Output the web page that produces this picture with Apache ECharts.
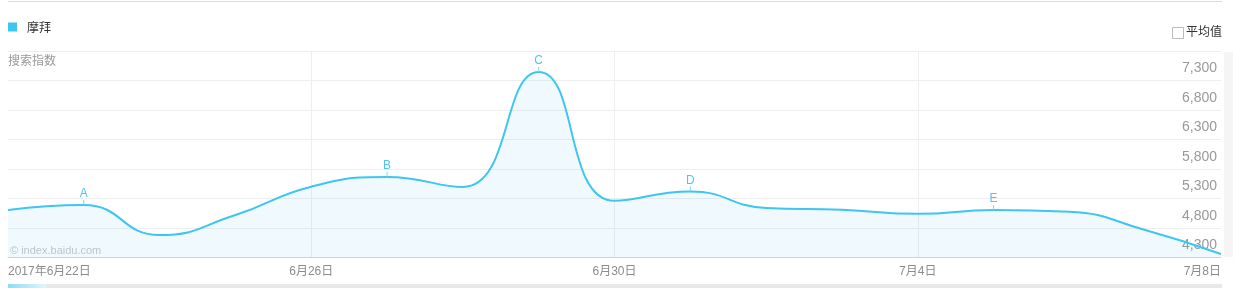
<!DOCTYPE html>
<html>
<head>
<meta charset="utf-8">
<script src="https://cdn.jsdelivr.net/npm/echarts@6/dist/echarts.min.js"></script>
<style>
html,body{margin:0;padding:0;background:#fff;}
#c{width:1233px;height:288px;}
</style>
</head>
<body>
<div id="c"></div>
<script>
const categories = ['2017年6月22日','6月23日','6月24日','6月25日','6月26日','6月27日','6月28日','6月29日','6月30日','7月1日','7月2日','7月3日','7月4日','7月5日','7月6日','7月7日','7月8日'];
const seriesName = '摩拜';
const values = [5105, 5190, 4680, 5020, 5500, 5665, 5495, 7445, 5260, 5420, 5140, 5110, 5040, 5105, 5075, 4765, 4360];
const markerNames = ['A','B','C','D','E'];
const markerIndex = [1, 5, 7, 9, 13];
const yMin = 4300, yMax = 7800, yStep = 500;

const LINE = '#3ec5f0';
const chart = echarts.init(document.getElementById('c'), null, {renderer:'canvas'});
chart.setOption({
  animation: false,
  grid: {left: 8, right: 12, top: 51, bottom: 30.5, containLabel: false},
  legend: {
    left: 8, top: 21, padding: 0, icon: 'rect', itemWidth: 9, itemHeight: 9,
    textStyle: {color: '#333', fontSize: 12, padding: [0,0,0,5], fontFamily: 'Noto Sans CJK SC, sans-serif'},
    data: [seriesName]
  },
  xAxis: {
    type: 'category', data: categories, boundaryGap: false,
    axisLine: {lineStyle: {color: '#cad9e2'}},
    axisTick: {show: false},
    axisLabel: {interval: 3, color: '#8c8c8c', fontSize: 12, margin: 8,
      alignMinLabel: 'left', alignMaxLabel: 'right', fontFamily: 'Liberation Sans, Noto Sans CJK SC, sans-serif'},
    splitLine: {show: true, interval: function(i){ return i % 4 === 0 && i > 0 && i < categories.length - 1; },
      lineStyle: {color: '#eeeeee'}}
  },
  yAxis: {
    type: 'value', position: 'right', min: yMin, max: yMax, interval: yStep,
    axisLine: {show: false}, axisTick: {show: false},
    axisLabel: {inside: true, margin: 4, color: '#999', fontSize: 14, verticalAlign: 'bottom',
      padding: [0,0,5,0], showMaxLabel: false, fontFamily: 'Liberation Sans, sans-serif',
      formatter: function(v){ return v.toLocaleString('en-US'); }},
    splitLine: {lineStyle: {color: '#eeeeee'}}
  },
  series: [{
    name: seriesName, type: 'line', data: values, smooth: 0.5,
    symbol: 'none', itemStyle: {color: LINE},
    lineStyle: {color: LINE, width: 2},
    areaStyle: {color: 'rgba(40,180,235,0.105)'},
    markPoint: {
      symbol: 'rect', symbolSize: [1, 5], symbolOffset: [0, -2.5],
      itemStyle: {color: '#7fd3f2'},
      label: {show: true, position: 'top', distance: 0, color: '#52c3ee', fontSize: 12,
        fontFamily: 'Liberation Sans, sans-serif', formatter: function(p){ return p.name; }},
      data: markerNames.map(function(n, k){ return {name: n, coord: [markerIndex[k], values[markerIndex[k]]]}; })
    }
  }],
  graphic: [
    {type: 'rect', left: 8, top: 1, shape: {width: 1214, height: 1}, style: {fill: '#dddddd'}, silent: true},
    {type: 'rect', left: 1224, top: 52, shape: {width: 9, height: 205}, style: {fill: '#f5f5f5'}, silent: true},
    {type: 'rect', left: 8, top: 284, shape: {width: 1214, height: 4}, style: {fill: '#e8e8e8'}, silent: true},
    {type: 'rect', left: 8, top: 284, shape: {width: 38, height: 4},
      style: {fill: new echarts.graphic.LinearGradient(0,0,1,0,[{offset:0,color:'#8fdaf5'},{offset:1,color:'#e3f5fc'}])}, silent: true},
    {type: 'text', left: 8, top: 54, style: {text: '搜索指数', fill: '#999', fontSize: 12, fontFamily: 'Noto Sans CJK SC, sans-serif'}, silent: true},
    {type: 'text', left: 10, top: 245, style: {text: '© index.baidu.com', fill: '#c8c8c8', fontSize: 11, fontFamily: 'Liberation Sans, sans-serif'}, silent: true},
    {type: 'rect', left: 1172, top: 27, shape: {width: 11, height: 11}, style: {fill: '#fff', stroke: '#bbbbbb', lineWidth: 1}, silent: true},
    {type: 'text', left: 1186, top: 25, style: {text: '平均值', fill: '#333', fontSize: 12, fontFamily: 'Noto Sans CJK SC, sans-serif'}, silent: true}
  ]
});
</script>
</body>
</html>
